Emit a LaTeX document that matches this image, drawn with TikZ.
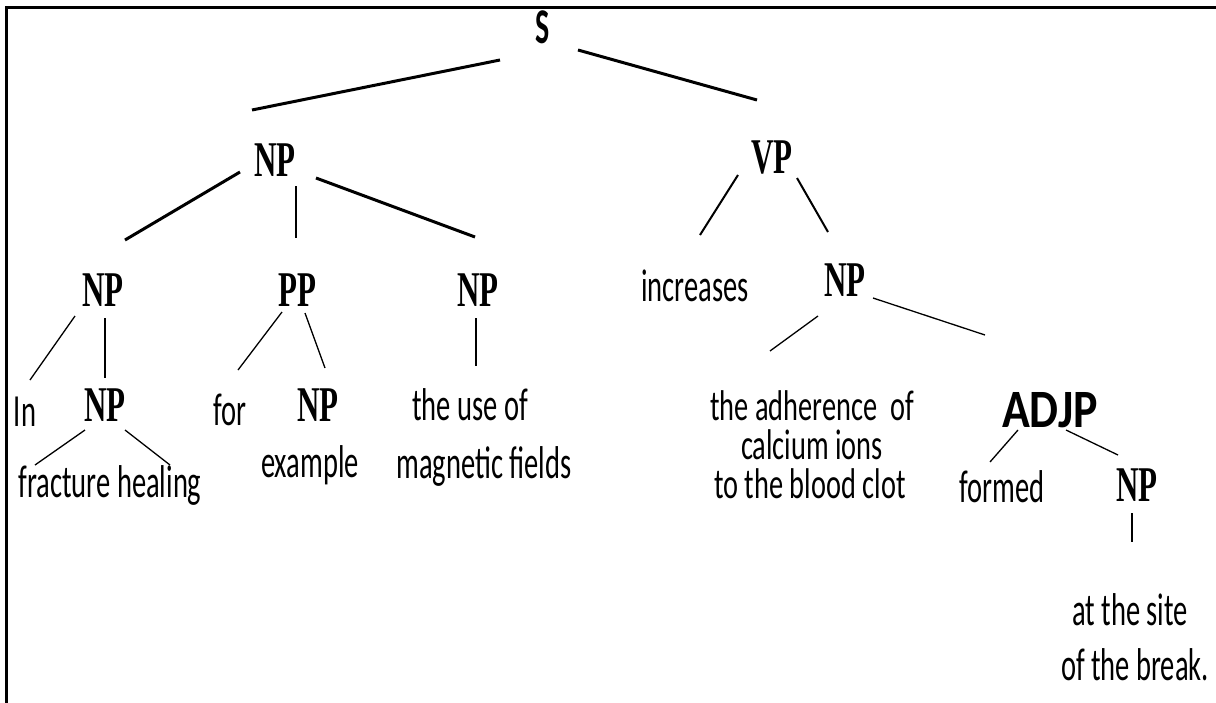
\documentclass[tikz,border=0pt]{standalone}
\usepackage{fontspec}
\usetikzlibrary{calc}
\newfontfamily\txtfont[FakeStretch=0.62]{Carlito}
\newfontfamily\txtnarrow[FakeStretch=0.66]{Carlito}
\newfontfamily\labfont[FakeStretch=0.62]{Liberation Serif}
\newfontfamily\adjfont[FakeStretch=0.85]{Carlito}
\newfontfamily\sfont[FakeStretch=0.6]{Carlito}
\begin{document}
\begin{tikzpicture}[x=1pt,y=-1pt,
  lab/.style={font=\labfont\bfseries\fontsize{50}{50}\selectfont, inner sep=0pt},
  wd/.style={font=\txtfont\fontsize{46}{46}\selectfont, inner sep=0pt},
  tight/.style={font=\txtnarrow\fontsize{43}{43}\selectfont, inner sep=0pt, text height=24pt, text depth=6pt, anchor=base},
  e1/.style={line width=3pt},
  e2/.style={line width=2pt},
  e3/.style={line width=1.3pt}]
\useasboundingbox (0,0) rectangle (1216,702);
\fill[white] (0,0) rectangle (1216,702);
\draw[line width=3pt] (6,710) -- (6,7) -- (1230,7);
% nodes
\node[font=\sfont\bfseries\fontsize{50}{50}\selectfont, inner sep=0pt] (S) at (543,27) {S};
\node[lab] (NP1) at (275,160) {NP};
\node[lab] (VP) at (772,158) {VP};
\node[lab] (NPa) at (103,290) {NP};
\node[lab] (PP) at (297,290) {PP};
\node[lab] (NPc) at (478,290) {NP};
\node[wd] (incr) at (695,286) {increases};
\node[lab] (NP2) at (845,280) {NP};
\node[wd] (In) at (25,412) {In};
\node[lab] (NPf) at (105,405) {NP};
\node[wd] (for) at (230,410) {for};
\node[lab] (NPe) at (318,405) {NP};
\node[wd] (use) at (470,405) {the use of};
\node[wd] (mag) at (484,466) {magnetic fields};
\node[wd] (fh) at (110,485) {fracture healing};
\node[wd] (ex) at (310,465) {example};
\node[tight] (adh) at (812,420) {the adherence\ \ of};
\node[tight] (adh2) at (812,459) {calcium ions};
\node[tight] (adh3) at (810,498) {to the blood clot};
\node[inner sep=0pt, font=\adjfont\bfseries\fontsize{54}{54}\selectfont] (ADJP) at (1050,410) {ADJP};
\node[wd] (formed) at (1002,487) {formed};
\node[lab] (NPs) at (1137,485) {NP};
\node[wd] (site) at (1130,610) {at the site};
\node[wd] (brk) at (1135,665) {of the break.};
% edges
\draw[e1] ($(S)+(-43,33)$) -- ($(NP1)+(-23,-50)$);
\draw[e1] ($(S)+(35,23)$) -- ($(VP)+(-15,-58)$);
\draw[e1] ($(NP1)+(-35,12)$) -- ($(NPa)+(22,-50)$);
\draw[e2] ($(NP1)+(21,26)$) -- ($(PP)+(-1,-52)$);
\draw[e1] ($(NP1)+(41,18)$) -- ($(NPc)+(-3,-53)$);
\draw[e2] ($(VP)+(-34,17)$) -- ($(incr)+(5,-51)$);
\draw[e2] ($(VP)+(25,20)$) -- ($(NP2)+(-17,-48)$);
\draw[e3] ($(NPa)+(-28,26)$) -- ($(In)+(5,-32)$);
\draw[e3] ($(NPa)+(2,28)$) -- ($(NPf)+(0,-27)$);
\draw[e3] ($(PP)+(-15,22)$) -- ($(for)+(8,-40)$);
\draw[e3] ($(PP)+(8,23)$) -- ($(NPe)+(7,-37)$);
\draw[e3] ($(NPc)+(-2,28)$) -- ($(use)+(6,-39)$);
\draw[e3] ($(NP2)+(-27,36)$) -- ($(adh)+(-42,-60)$);
\draw[e3] ($(NP2)+(28,18)$) -- ($(ADJP)+(-65,-75)$);
\draw[e3] ($(NPf)+(-20,25)$) -- ($(fh)+(-75,-20)$);
\draw[e3] ($(NPf)+(20,25)$) -- ($(fh)+(60,-20)$);
\draw[e3] ($(ADJP)+(-32,20)$) -- ($(formed)+(-12,-25)$);
\draw[e3] ($(ADJP)+(16,20)$) -- ($(NPs)+(-19,-30)$);
\draw[e3] ($(NPs)+(-5,28)$) -- ($(site)+(2,-68)$);
\end{tikzpicture}
\end{document}
